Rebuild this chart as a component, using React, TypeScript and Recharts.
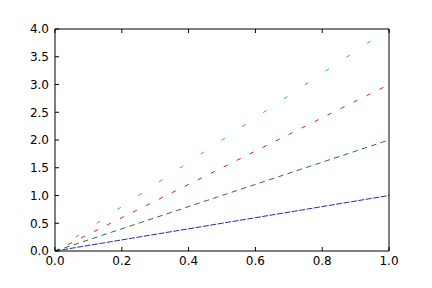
import React from "react";
import { LineChart, Line, XAxis, YAxis } from "recharts";

const xValues = [0, 1];
const blueSeries = [0, 1];
const greenSeries = [0, 2];
const redSeries = [0, 3];
const cyanSeries = [0, 4];
const xTicks = [0, 0.2, 0.4, 0.6, 0.8, 1.0];
const yTicks = [0, 0.5, 1.0, 1.5, 2.0, 2.5, 3.0, 3.5, 4.0];

const data = xValues.map((x, i) => ({
  x,
  b: blueSeries[i],
  g: greenSeries[i],
  r: redSeries[i],
  c: cyanSeries[i],
}));

const FONT = "DejaVu Sans";

const BottomTick = (props: any) => {
  const { x, y, payload } = props;
  return (
    <g>
      <line x1={x} x2={x} y1={y} y2={y - 4} stroke="#000" strokeWidth={1} />
      <text x={x} y={y + 13.5} textAnchor="middle" fontFamily={FONT} fontSize={12} fill="#000">
        {Number(payload.value).toFixed(1)}
      </text>
    </g>
  );
};

const TopTick = (props: any) => {
  const { x, y } = props;
  return <line x1={x} x2={x} y1={y} y2={y + 4} stroke="#000" strokeWidth={1} />;
};

const LeftTick = (props: any) => {
  const { x, y, payload } = props;
  return (
    <g>
      <line x1={x} x2={x + 4} y1={y} y2={y} stroke="#000" strokeWidth={1} />
      <text x={x - 6} y={y + 4.3} textAnchor="end" fontFamily={FONT} fontSize={12} fill="#000">
        {Number(payload.value).toFixed(1)}
      </text>
    </g>
  );
};

const RightTick = (props: any) => {
  const { x, y } = props;
  return <line x1={x} x2={x - 4} y1={y} y2={y} stroke="#000" strokeWidth={1} />;
};

export default function App() {
  return (
    <div style={{ position: "absolute", left: 0, top: 0, width: 432, height: 288, background: "#fff" }}>
      <LineChart
        width={432}
        height={288}
        data={data}
        margin={{ top: 19, right: 33, bottom: 17, left: 15 }}
        style={{ overflow: "visible" }}
      >
        <XAxis
          dataKey="x"
          type="number"
          domain={[0, 1]}
          ticks={xTicks}
          height={20}
          tickSize={0}
          tickMargin={0}
          tickLine={false}
          axisLine={{ stroke: "#000", strokeWidth: 1 }}
          tick={<BottomTick />}
          interval={0}
        />
        <XAxis
          xAxisId="top"
          orientation="top"
          dataKey="x"
          type="number"
          domain={[0, 1]}
          ticks={xTicks}
          height={10}
          tickSize={0}
          tickMargin={0}
          tickLine={false}
          axisLine={{ stroke: "#000", strokeWidth: 1 }}
          tick={<TopTick />}
          interval={0}
        />
        <YAxis
          type="number"
          domain={[0, 4]}
          ticks={yTicks}
          width={40}
          tickSize={0}
          tickMargin={0}
          tickLine={false}
          axisLine={{ stroke: "#000", strokeWidth: 1 }}
          tick={<LeftTick />}
          interval={0}
        />
        <YAxis
          yAxisId="right"
          orientation="right"
          type="number"
          domain={[0, 4]}
          ticks={yTicks}
          width={10}
          tickSize={0}
          tickMargin={0}
          tickLine={false}
          axisLine={{ stroke: "#000", strokeWidth: 1 }}
          tick={<RightTick />}
          interval={0}
        />
        <Line dataKey="b" stroke="#2a2aa8" strokeWidth={1} strokeDasharray="6 1.5" dot={false} isAnimationActive={false} />
        <Line dataKey="g" stroke="#1f7a1f" strokeWidth={1} strokeDasharray="5.5 4.3" dot={false} isAnimationActive={false} />
        <Line dataKey="r" stroke="#d02040" strokeWidth={1} strokeDasharray="4.5 10" dot={false} isAnimationActive={false} />
        <Line dataKey="c" stroke="#20b090" strokeWidth={1} strokeDasharray="4 21" dot={false} isAnimationActive={false} />
      </LineChart>
    </div>
  );
}
